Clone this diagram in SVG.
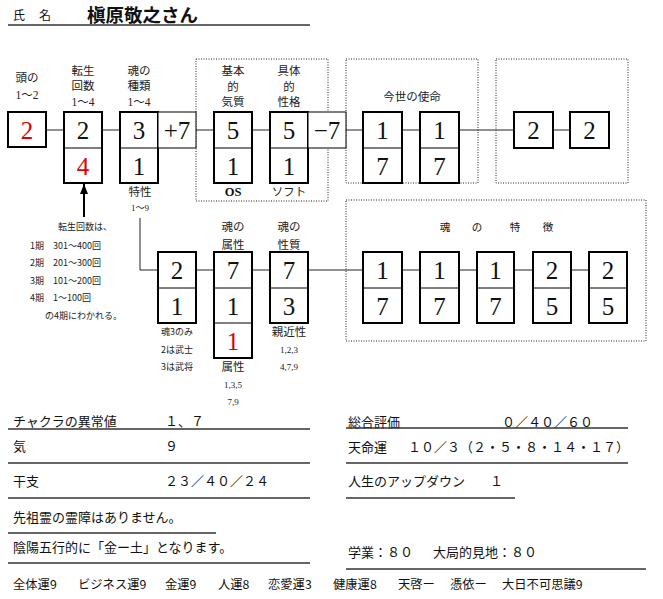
<svg xmlns="http://www.w3.org/2000/svg" width="663" height="599" viewBox="0 0 663 599">
<style>
text{font-family:"Liberation Serif","Noto Sans CJK JP",serif;fill:#111}
.j{font-family:"Noto Sans CJK JP","Liberation Sans",sans-serif}
.box{fill:#fff;stroke:#000;stroke-width:2}
.thin{fill:#fff;stroke:#000;stroke-width:1}
.div{stroke:#000;stroke-width:1}
.num{font-size:25px;text-anchor:middle}
.red{fill:#e00000}
.lbl{font-size:11.5px;text-anchor:middle;fill:#222}
.sm{font-size:9px;text-anchor:middle;fill:#222}
.note{font-size:9px;fill:#222}
.dot{fill:none;stroke:#222;stroke-width:1;stroke-dasharray:1 1.5}
.con{stroke:#222;stroke-width:1;fill:none}
.ul{stroke:#333;stroke-width:1.5}
.body{font-size:13px}
</style>
<defs>
<marker id="ah" viewBox="0 0 10 8" refX="10" refY="4" markerWidth="10" markerHeight="8" markerUnits="userSpaceOnUse" orient="auto">
<path d="M0,0 L10,4 L0,8 Z" fill="#000"/>
</marker>
</defs>

<g id="header">
<text class="j" x="13" y="20" font-size="12">氏</text>
<text class="j" x="39" y="20" font-size="12">名</text>
<text class="j" x="87" y="22" font-size="18.5" font-weight="bold">槇原敬之さん</text>
<line class="ul" x1="8" y1="25" x2="310" y2="25"/>
</g>

<g id="frames">
<rect class="dot" x="196" y="59" width="132" height="142"/>
<rect class="dot" x="346" y="59" width="132" height="124"/>
<rect class="dot" x="496" y="59" width="132" height="124"/>
<rect class="dot" x="346" y="200" width="300" height="141"/>
</g>

<g id="connectors">
<line class="con" x1="46" y1="130" x2="64" y2="130"/>
<line class="con" x1="102" y1="130" x2="120" y2="130"/>
<line class="con" x1="196" y1="130" x2="214" y2="130"/>
<line class="con" x1="252" y1="130" x2="270" y2="130"/>
<line class="con" x1="346" y1="130" x2="363" y2="130"/>
<line class="con" x1="402" y1="130" x2="420" y2="130"/>
<line class="con" x1="459" y1="130" x2="514" y2="130"/>
<line class="con" x1="553" y1="130" x2="570" y2="130"/>
<polyline class="con" points="140,218 140,270 158,270"/>
<line class="con" x1="196" y1="270" x2="214" y2="270"/>
<line class="con" x1="252" y1="270" x2="270" y2="270"/>
<line class="con" x1="308" y1="270" x2="363" y2="270"/>
<line class="con" x1="402" y1="270" x2="420" y2="270"/>
<line class="con" x1="459" y1="270" x2="477" y2="270"/>
<line class="con" x1="514" y1="270" x2="533" y2="270"/>
<line class="con" x1="571" y1="270" x2="589" y2="270"/>
<line x1="84" y1="217" x2="84" y2="184" stroke="#000" stroke-width="2" marker-end="url(#ah)"/>
</g>

<g id="n-head">
<text class="lbl j" x="27" y="82">頭の</text>
<text class="lbl" x="27" y="99">1～2</text>
<rect class="box" x="8" y="112" width="38" height="35"/>
<text class="num red" x="27" y="139">2</text>
</g>

<g id="n-tensei">
<text class="lbl j" x="83" y="75">転生</text>
<text class="lbl j" x="83" y="90">回数</text>
<text class="lbl" x="83" y="106">1～4</text>
<rect class="box" x="64" y="112" width="38" height="71"/>
<line class="div" x1="64" y1="148" x2="102" y2="148"/>
<text class="num" x="83" y="139">2</text>
<text class="num red" x="83" y="175">4</text>
</g>

<g id="n-note">
<text class="note j" x="58" y="230">転生回数は、</text>
<text class="note j" x="30" y="249">1期<tspan x="53">301～400回</tspan></text>
<text class="note j" x="30" y="266">2期<tspan x="53">201～300回</tspan></text>
<text class="note j" x="30" y="284">3期<tspan x="53">101～200回</tspan></text>
<text class="note j" x="30" y="301">4期<tspan x="53">1～100回</tspan></text>
<text class="note j" x="45" y="319">の4期にわかれる。</text>
</g>

<g id="n-kind">
<text class="lbl j" x="139" y="75">魂の</text>
<text class="lbl j" x="139" y="90">種類</text>
<text class="lbl" x="139" y="106">1～4</text>
<rect class="box" x="120" y="112" width="38" height="71"/>
<line class="div" x1="120" y1="148" x2="158" y2="148"/>
<text class="num" x="139" y="139">3</text>
<text class="num" x="139" y="175">1</text>
<text class="lbl j" x="140" y="196">特性</text>
<text class="sm" x="140" y="211">1～9</text>
</g>

<g id="n-plus7">
<rect class="thin" x="158" y="112" width="38" height="36"/>
<text class="num" x="177" y="139">+7</text>
</g>

<g id="n-kihon">
<text class="lbl j" x="233" y="75">基本</text>
<text class="lbl j" x="233" y="91">的</text>
<text class="lbl j" x="233" y="106">気質</text>
<rect class="box" x="214" y="112" width="38" height="71"/>
<line class="div" x1="214" y1="148" x2="252" y2="148"/>
<text class="num" x="233" y="139">5</text>
<text class="num" x="233" y="175">1</text>
<text x="233" y="196" font-family="Liberation Sans,sans-serif" font-size="12.5" font-weight="bold" text-anchor="middle">OS</text>
</g>

<g id="n-gutai">
<text class="lbl j" x="289" y="75">具体</text>
<text class="lbl j" x="289" y="91">的</text>
<text class="lbl j" x="289" y="106">性格</text>
<rect class="box" x="270" y="112" width="38" height="71"/>
<line class="div" x1="270" y1="148" x2="308" y2="148"/>
<text class="num" x="289" y="139">5</text>
<text class="num" x="289" y="175">1</text>
<text class="lbl j" x="289" y="196" fill="#444">ソフト</text>
</g>

<g id="n-minus7">
<rect class="thin" x="308" y="112" width="38" height="36"/>
<text class="num" x="327" y="139">−7</text>
</g>

<g id="n-mission">
<text class="lbl j" x="412" y="101">今世の使命</text>
<rect class="box" x="363" y="112" width="39" height="71"/>
<line class="div" x1="363" y1="148" x2="402" y2="148"/>
<text class="num" x="382.5" y="139">1</text>
<text class="num" x="382.5" y="175">7</text>
<rect class="box" x="420" y="112" width="39" height="71"/>
<line class="div" x1="420" y1="148" x2="459" y2="148"/>
<text class="num" x="439.5" y="139">1</text>
<text class="num" x="439.5" y="175">7</text>
</g>

<g id="n-right">
<rect class="box" x="514" y="112" width="39" height="36"/>
<text class="num" x="533.5" y="139">2</text>
<rect class="box" x="570" y="112" width="39" height="36"/>
<text class="num" x="589.5" y="139">2</text>
</g>

<g id="n-soul3">
<rect class="box" x="158" y="252" width="38" height="71"/>
<line class="div" x1="158" y1="288" x2="196" y2="288"/>
<text class="num" x="177" y="279">2</text>
<text class="num" x="177" y="315">1</text>
<text class="sm j" x="177" y="335">魂3のみ</text>
<text class="sm j" x="177" y="353">2は武士</text>
<text class="sm j" x="177" y="370">3は武将</text>
</g>

<g id="n-zokusei">
<text class="lbl j" x="233" y="231">魂の</text>
<text class="lbl j" x="233" y="249">属性</text>
<rect class="box" x="214" y="252" width="38" height="106"/>
<line class="div" x1="214" y1="288" x2="252" y2="288"/>
<line class="div" x1="214" y1="323" x2="252" y2="323"/>
<text class="num" x="233" y="279">7</text>
<text class="num" x="233" y="315">1</text>
<text class="num red" x="233" y="350">1</text>
<text class="lbl j" x="233" y="371">属性</text>
<text class="sm" x="233" y="388">1,3,5</text>
<text class="sm" x="233" y="405">7,9</text>
</g>

<g id="n-seishitsu">
<text class="lbl j" x="289" y="231">魂の</text>
<text class="lbl j" x="289" y="249">性質</text>
<rect class="box" x="270" y="252" width="38" height="71"/>
<line class="div" x1="270" y1="288" x2="308" y2="288"/>
<text class="num" x="289" y="279">7</text>
<text class="num" x="289" y="315">3</text>
<text class="lbl j" x="289" y="336">親近性</text>
<text class="sm" x="289" y="353">1,2,3</text>
<text class="sm" x="289" y="370">4,7,9</text>
</g>

<g id="n-features">
<text class="j" font-size="10.5" fill="#222" y="231" text-anchor="middle"><tspan x="445">魂</tspan><tspan x="477">の</tspan><tspan x="515">特</tspan><tspan x="548">徴</tspan></text>
<rect class="box" x="363" y="252" width="39" height="71"/>
<line class="div" x1="363" y1="288" x2="402" y2="288"/>
<text class="num" x="382.5" y="279">1</text>
<text class="num" x="382.5" y="315">7</text>
<rect class="box" x="420" y="252" width="39" height="71"/>
<line class="div" x1="420" y1="288" x2="459" y2="288"/>
<text class="num" x="439.5" y="279">1</text>
<text class="num" x="439.5" y="315">7</text>
<rect class="box" x="477" y="252" width="37" height="71"/>
<line class="div" x1="477" y1="288" x2="514" y2="288"/>
<text class="num" x="495.5" y="279">1</text>
<text class="num" x="495.5" y="315">7</text>
<rect class="box" x="533" y="252" width="38" height="71"/>
<line class="div" x1="533" y1="288" x2="571" y2="288"/>
<text class="num" x="552" y="279">2</text>
<text class="num" x="552" y="315">5</text>
<rect class="box" x="589" y="252" width="38" height="71"/>
<line class="div" x1="589" y1="288" x2="627" y2="288"/>
<text class="num" x="608" y="279">2</text>
<text class="num" x="608" y="315">5</text>
</g>

<g id="info-left">
<text class="body j" x="13" y="426">チャクラの異常値<tspan x="165">１、７</tspan></text>
<line class="ul" x1="8" y1="429" x2="310" y2="429"/>
<text class="body j" x="13" y="451">気<tspan x="165">９</tspan></text>
<line class="ul" x1="8" y1="463" x2="310" y2="463"/>
<text class="body j" x="13" y="486">干支<tspan x="165">２３／４０／２４</tspan></text>
<line class="ul" x1="8" y1="498" x2="310" y2="498"/>
<text class="body j" x="13" y="522">先祖霊の霊障はありません。</text>
<line class="ul" x1="8" y1="533" x2="216" y2="533"/>
<text class="body j" x="13" y="552">陰陽五行的に「金ー土」となります。</text>
<line class="ul" x1="8" y1="563" x2="310" y2="563"/>
</g>

<g id="info-right">
<text class="body j" x="348" y="427">総合評価<tspan x="502">０／４０／６０</tspan></text>
<line class="ul" x1="346" y1="428" x2="628" y2="428"/>
<text class="body j" x="348" y="452">天命運<tspan x="408">１０／３（２・５・８・１４・１７）</tspan></text>
<line class="ul" x1="346" y1="463" x2="628" y2="463"/>
<text class="body j" x="348" y="486">人生のアップダウン<tspan x="490">１</tspan></text>
<line class="ul" x1="346" y1="498" x2="515" y2="498"/>
<text class="body j" x="348" y="557">学業：８０<tspan x="433">大局的見地：８０</tspan></text>
<line class="ul" x1="346" y1="569" x2="646" y2="569"/>
</g>

<g id="fortunes">
<text class="j" font-size="12.3" y="589"><tspan x="13">全体運9</tspan><tspan x="78">ビジネス運9</tspan><tspan x="165">金運9</tspan><tspan x="218">人運8</tspan><tspan x="268">恋愛運3</tspan><tspan x="333">健康運8</tspan><tspan x="398">天啓ー</tspan><tspan x="450">憑依ー</tspan><tspan x="502">大日不可思議9</tspan></text>
</g>
</svg>
